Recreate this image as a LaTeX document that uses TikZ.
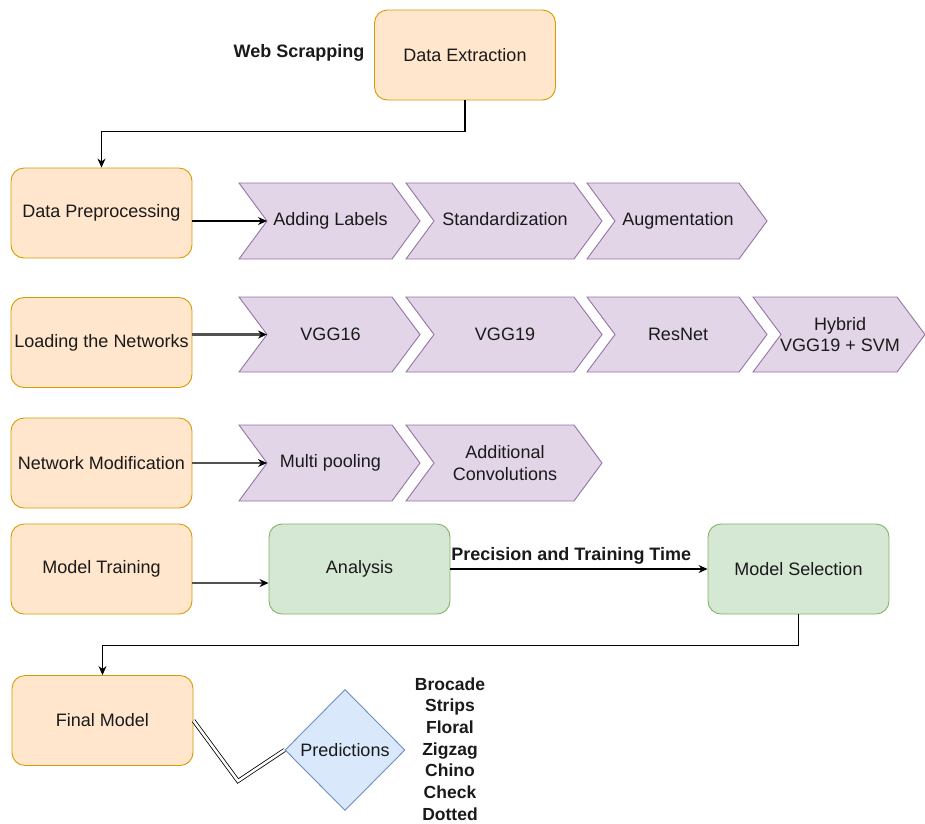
\documentclass[tikz,border=0pt]{standalone}
\usepackage{fontspec}
\setmainfont{Liberation Sans}
\usetikzlibrary{shapes.geometric,arrows.meta}
\definecolor{ofill}{HTML}{FFE6CC}\definecolor{odraw}{HTML}{D79B00}
\definecolor{pfill}{HTML}{E1D5E7}\definecolor{pdraw}{HTML}{9673A6}
\definecolor{gfill}{HTML}{D5E8D4}\definecolor{gdraw}{HTML}{82B366}
\definecolor{bfill}{HTML}{DAE8FC}\definecolor{bdraw}{HTML}{6C8EBF}
\definecolor{txt}{HTML}{1A1A1A}
\tikzset{
  box/.style={draw, rounded corners=13pt, minimum width=181pt, minimum height=90pt, inner sep=0pt, line width=0.9pt, align=center},
  obox/.style={box, fill=ofill, draw=odraw},
  gbox/.style={box, fill=gfill, draw=gdraw},
  chev/.style={fill=pfill, draw=pdraw, line width=0.9pt, line join=miter},
  chevtxt/.style={align=center, inner sep=0pt},
  arr/.style={draw=black, line width=1.1pt, -{Stealth[length=9pt,width=8pt]}},
  garr/.style={draw=black!68, line width=2.8pt, -{Stealth[length=9pt,width=8pt,color=black]}},
  lbl/.style={font=\fontsize{18pt}{21.7pt}\selectfont\bfseries, inner sep=1pt, align=center},
}
\newcommand{\mychevron}[6]{% name, xl, xr, yt, yb, text
  \path[chev] (#2,#4) -- (#3-28,#4) -- (#3,{(#4+#5)/2}) -- (#3-28,#5) -- (#2,#5) -- (#2+28,{(#4+#5)/2}) -- cycle;
  \node[chevtxt] (#1) at ({(#2+#3)/2+1}, {(#4+#5)/2}) {#6};
  \coordinate (#1-n) at (#2+28,{(#4+#5)/2});
}
\begin{document}
\begin{tikzpicture}[x=1pt,y=-1pt, font=\fontsize{18pt}{21.7pt}\selectfont, text=txt]
\useasboundingbox (0,0) rectangle (925,823);
% boxes
\node[obox] (de) at (465,55) {Data Extraction};
\node[lbl] (ws) at (299,53) {Web Scrapping};
\node[obox] (dp) at (101.5,213) {Data Preprocessing};
\node[obox] (ln) at (101.5,342.5) {Loading the Networks};
\node[obox] (nm) at (101.5,463) {Network Modification};
\node[obox] (mt) at (101.5,569) {Model Training};
\node[gbox] (an) at (359.5,569) {Analysis};
\node[gbox] (ms) at (798.5,569) {Model Selection};
\node[obox] (fm) at (102.5,720.5) {Final Model};
\node[diamond, aspect=1, draw=bdraw, fill=bfill, line width=0.9pt, minimum width=120pt, minimum height=121pt, inner sep=0pt] (pred) at (345,750) {Predictions};
\node[lbl, font=\fontsize{17.5pt}{21.7pt}\selectfont\bfseries] (cls) at (450,749) {Brocade\\Strips\\Floral\\Zigzag\\Chino\\Check\\Dotted};
% chevrons
\mychevron{a1}{239}{420}{183}{259}{Adding Labels}
\mychevron{a2}{406}{602}{183}{259}{Standardization\vphantom{g}}
\mychevron{a3}{587}{767}{183}{259}{Augmentation}
\mychevron{b1}{239}{420}{297}{372}{VGG16}
\mychevron{b2}{406}{602}{297}{372}{VGG19}
\mychevron{b3}{587}{767}{297}{372}{ResNet}
\mychevron{b4}{753}{925}{297}{372}{Hybrid\\VGG19 + SVM}
\mychevron{c1}{239}{420}{425}{501}{Multi pooling}
\mychevron{c2}{406}{602}{425}{501}{Additional\\Convolutions}
% connectors
\draw[arr] (de.south) -- ++(0,31) -| (dp.north);
\draw[arr] (dp.east |- a1-n) -- (a1-n);
\draw[garr] (ln.east |- b1-n) -- (b1-n);
\draw[garr] (nm.east |- c1-n) -- (c1-n);
\draw[garr] ([yshift=-14pt]mt.east) -- ([yshift=-14pt]an.west);
\draw[arr] (an.east) -- (ms.west) node[lbl, pos=0.47, above=3pt] (pt) {Precision and Training Time};
\draw[arr] (ms.south) -- ++(0,31) -| (fm.north);
\coordinate (bend) at (238,781);
\draw[double=white, double distance=2.5pt, line width=0.8pt, line join=miter] (fm.east) -- (bend) -- (pred.west);
\end{tikzpicture}
\end{document}
